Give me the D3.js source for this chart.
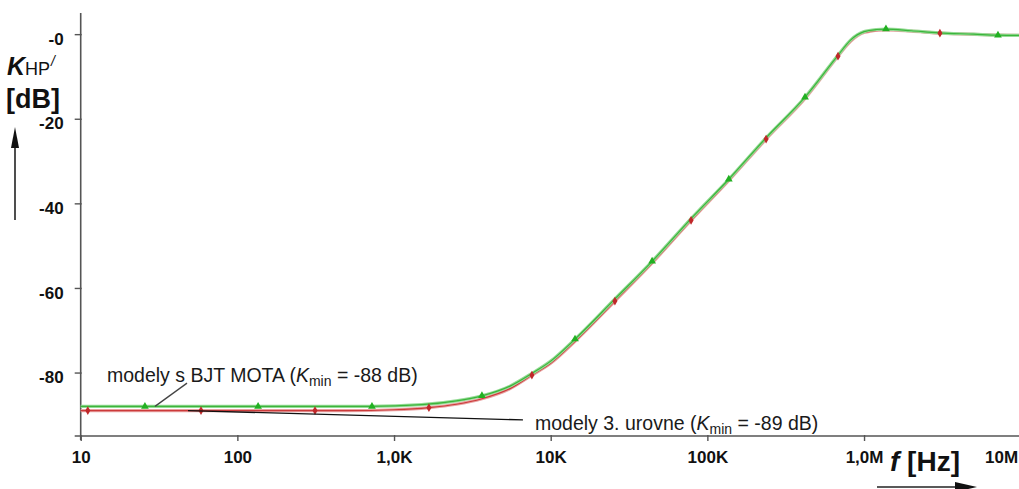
<!DOCTYPE html>
<html>
<head>
<meta charset="utf-8">
<script src="https://cdn.jsdelivr.net/npm/d3@7"></script>
<style>
  html, body { margin: 0; padding: 0; background: #fff; }
  svg { display: block; font-family: "Liberation Sans", Arial, sans-serif; }
</style>
</head>
<body>
<svg id="chart" width="1019" height="489"></svg>
<script>
// ---- data ----
const xTickValues = [10, 100, 1e3, 1e4, 1e5, 1e6, 1e7];
const xTickLabels = ["10", "100", "1,0K", "10K", "100K", "1,0M", "10M"];
const yTickValues = [0, -20, -40, -60, -80];
const yTickLabels = ["-0", "-20", "-40", "-60", "-80"];

// BJT MOTA model (green)
const greenF  = [10, 100, 700, 1500, 2500, 3640, 5500, 7590, 10000, 14300, 25700, 44400, 78700, 137000, 237000, 420000, 682000, 820000, 1000000, 1200000, 1380000, 2000000, 3000000, 5000000, 7160000, 10000000];
const greenDb = [-88.0, -88.0, -88.0, -87.6, -86.7, -85.5, -83.2, -80.2, -77.3, -72.1, -62.6, -53.7, -43.6, -34.3, -24.5, -14.9, -5.0, -1.4, 0.6, 1.1, 1.2, 0.8, 0.3, 0.0, -0.24, -0.3];
const greenMarkF  = [25.7, 135.6, 723, 3640, 14300, 44400, 137000, 420000, 1380000, 7160000];
const greenMarkDb = [-88.0, -88.0, -88.0, -85.5, -72.1, -53.7, -34.3, -14.9, 1.2, -0.24];

// level-3 models (red)
const redF  = [10, 100, 500, 1000, 1670, 2500, 3640, 5500, 7590, 10000, 14300, 25700, 44400, 78700, 137000, 237000, 420000, 682000, 820000, 1000000, 1380000, 2000000, 3050000, 5000000, 7000000, 10000000];
const redDb = [-89.0, -89.0, -89.0, -88.8, -88.3, -87.5, -86.2, -83.8, -80.6, -77.8, -72.6, -63.1, -54.1, -44.0, -34.6, -24.8, -15.2, -5.2, -1.7, 0.4, 1.0, 0.7, 0.24, -0.05, -0.2, -0.3];
const redMarkF  = [11.1, 58.6, 313, 1670, 7590, 25700, 78700, 237000, 682000, 3050000];
const redMarkDb = [-89.0, -89.0, -89.0, -88.3, -80.6, -63.1, -44.0, -24.8, -5.2, 0.24];

// annotations: text + leader line anchored in data coordinates
const annoBJT  = { label: "modely s BJT MOTA (", sub: "min", tail: " = -88 dB)", from: [47.7, -82.5], to: [29.8, -88.0] };
const annoLvl3 = { label: "modely 3. urovne (", sub: "min", tail: " = -89 dB)", from: [48.4, -89.0], to: [6650, -91.2] };

// ---- scales ----
const svg = d3.select("#chart");
const x = d3.scaleLog().domain([10, 1e7]).range([80.7, 1020.7]);
const y = d3.scaleLinear().domain([-95, 5]).range([436, 13]);

const axisColor = "#555";

// axis lines
svg.append("line").attr("x1", x(10)).attr("x2", x(10))
  .attr("y1", y(5)).attr("y2", y(-95) + 4)
  .attr("stroke", axisColor).attr("stroke-width", 1.6);
svg.append("line").attr("x1", x(10) - 6).attr("x2", 1019)
  .attr("y1", y(-95)).attr("y2", y(-95))
  .attr("stroke", axisColor).attr("stroke-width", 1.6);

// y axis ticks/labels
const yAxis = d3.axisLeft(y).tickValues(yTickValues)
  .tickFormat((d, i) => yTickLabels[i]).tickSizeInner(6).tickSizeOuter(0).tickPadding(11);
const gy = svg.append("g").attr("transform", `translate(${x(10)},0)`).call(yAxis);
gy.select(".domain").remove();
gy.selectAll(".tick line").attr("stroke", axisColor).attr("stroke-width", 1.4).attr("x2", -6).attr("x1", 1);
gy.selectAll(".tick text").attr("font-size", 17).attr("font-weight", "bold")
  .attr("fill", "#111").attr("dy", "0.6em").attr("font-family", "Liberation Sans, Arial, sans-serif");

// x axis ticks/labels
const xAxis = d3.axisBottom(x).tickValues(xTickValues)
  .tickFormat((d, i) => xTickLabels[i]).tickSizeInner(5).tickSizeOuter(0).tickPadding(10);
const gx = svg.append("g").attr("transform", `translate(0,${y(-95)})`).call(xAxis);
gx.select(".domain").remove();
gx.selectAll(".tick line").attr("stroke", axisColor).attr("stroke-width", 1.4).attr("y1", -1);
gx.selectAll(".tick text").attr("font-size", 17).attr("font-weight", "bold")
  .attr("fill", "#111").attr("font-family", "Liberation Sans, Arial, sans-serif")
  .filter(d => d === 1e7).attr("text-anchor", "end").attr("dx", -3);

// ---- curves ----
const line = d3.line().x(d => x(d[0])).y(d => y(d[1])).curve(d3.curveMonotoneX);
const redData = redF.map((f, i) => [f, redDb[i]]);
const greenData = greenF.map((f, i) => [f, greenDb[i]]);

const plot = svg.append("g");
// red
plot.append("path").datum(redData).attr("d", line).attr("fill", "none")
  .attr("stroke", "#e8a2a2").attr("stroke-width", 3.2);
plot.append("path").datum(redData).attr("d", line).attr("fill", "none")
  .attr("stroke", "#cc3a3a").attr("stroke-width", 1.2);
// green
plot.append("path").datum(greenData).attr("d", line).attr("fill", "none")
  .attr("stroke", "#96dc96").attr("stroke-width", 3.2);
plot.append("path").datum(greenData).attr("d", line).attr("fill", "none")
  .attr("stroke", "#3cb43c").attr("stroke-width", 1.2);

// markers
const redMarks = redMarkF.map((f, i) => [f, redMarkDb[i]]);
const greenMarks = greenMarkF.map((f, i) => [f, greenMarkDb[i]]);
plot.selectAll(".rm").data(redMarks).enter().append("path").attr("class", "rm")
  .attr("transform", d => `translate(${x(d[0])},${y(d[1])})`)
  .attr("d", d3.symbol(d3.symbolDiamond, 22)).attr("fill", "#c0282a");
plot.selectAll(".gm").data(greenMarks).enter().append("path").attr("class", "gm")
  .attr("transform", d => `translate(${x(d[0])},${y(d[1])})`)
  .attr("d", d3.symbol(d3.symbolTriangle, 26)).attr("fill", "#22b022");

// ---- annotations ----
svg.append("line")
  .attr("x1", x(annoBJT.from[0])).attr("y1", y(annoBJT.from[1]))
  .attr("x2", x(annoBJT.to[0])).attr("y2", y(annoBJT.to[1]))
  .attr("stroke", "#444").attr("stroke-width", 1.3);
svg.append("line")
  .attr("x1", x(annoLvl3.from[0])).attr("y1", y(annoLvl3.from[1]))
  .attr("x2", x(annoLvl3.to[0])).attr("y2", y(annoLvl3.to[1]))
  .attr("stroke", "#111").attr("stroke-width", 1.3);

function annoText(a, px, py) {
  const t = svg.append("text").attr("x", px).attr("y", py)
    .attr("font-size", 19.5).attr("fill", "#1a1a1a");
  t.append("tspan").text(a.label);
  t.append("tspan").attr("font-style", "italic").text("K");
  t.append("tspan").attr("font-size", 14).attr("dy", 4).text(a.sub);
  t.append("tspan").attr("dy", -4).text(a.tail);
}
annoText(annoBJT, 107, 382);
annoText(annoLvl3, 535, 430);

// ---- axis titles ----
const yt = svg.append("text").attr("x", 7).attr("y", 75).attr("fill", "#111");
yt.append("tspan").attr("font-size", 25).attr("font-weight", "bold").attr("font-style", "italic").text("K");
yt.append("tspan").attr("font-size", 18).text("HP");
yt.append("tspan").attr("font-size", 14).attr("font-style", "italic").attr("dy", -9).attr("dx", 1).text("/");
svg.append("text").attr("x", 6).attr("y", 108).attr("font-size", 27)
  .attr("font-weight", "bold").attr("fill", "#111").text("[dB]");

// up arrow
svg.append("line").attr("x1", 15).attr("x2", 15).attr("y1", 220).attr("y2", 145)
  .attr("stroke", "#222").attr("stroke-width", 1.6);
svg.append("path").attr("d", "M15,127 L11,148 L19,148 Z").attr("fill", "#111");

// x title
const xt = svg.append("text").attr("x", 890).attr("y", 471).attr("font-size", 28)
  .attr("font-weight", "bold").attr("fill", "#111");
xt.append("tspan").attr("font-style", "italic").text("f");
xt.append("tspan").text(" [Hz]");

// right arrow
svg.append("line").attr("x1", 877).attr("x2", 960).attr("y1", 487).attr("y2", 487)
  .attr("stroke", "#222").attr("stroke-width", 1.6);
svg.append("path").attr("d", "M977,487 L955,482 L955,492 Z").attr("fill", "#111");
</script>
</body>
</html>
